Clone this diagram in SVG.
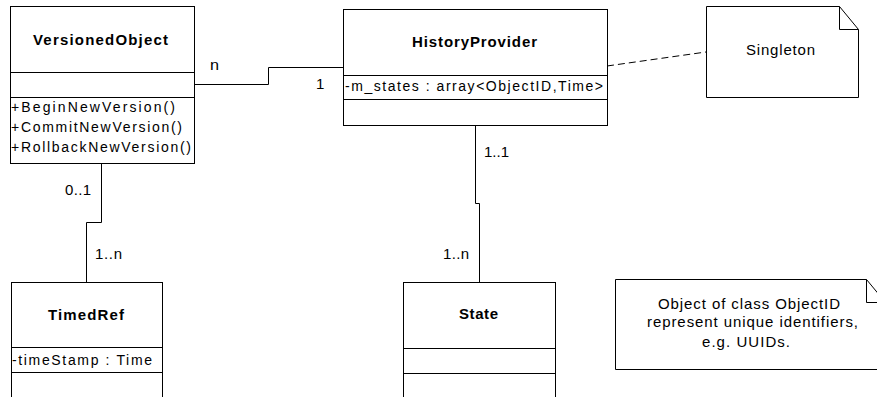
<svg xmlns="http://www.w3.org/2000/svg" width="877" height="397" viewBox="0 0 877 397">
<style>
.box{fill:#fff;stroke:#000;stroke-width:1}
.ln{fill:none;stroke:#000;stroke-width:1}
.dash{fill:none;stroke:#000;stroke-width:1;stroke-dasharray:7 4}
text{font-family:"Liberation Sans",Arial,sans-serif;font-size:14px;fill:#000}
.b{font-weight:bold;font-size:15px}
.l{font-size:15px}
</style>
<rect width="877" height="397" fill="#fff"/>
<g id="connectors">
<polyline class="ln" points="194,84.5 268.5,84.5 268.5,67.5 343,67.5"/>
<polyline class="ln" points="101.5,163 101.5,222.5 86.5,222.5 86.5,282"/>
<polyline class="ln" points="475.5,125 475.5,203.5 479.5,203.5 479.5,282"/>
<line class="dash" x1="607" y1="66" x2="706" y2="52"/>
<text class="l" x="210" y="70" textLength="9" lengthAdjust="spacingAndGlyphs">n</text>
<text class="l" x="316" y="89">1</text>
<text class="l" x="65" y="195" textLength="26" lengthAdjust="spacing">0..1</text>
<text class="l" x="95" y="259" textLength="27" lengthAdjust="spacing">1..n</text>
<text class="l" x="484" y="157" textLength="25" lengthAdjust="spacing">1..1</text>
<text class="l" x="443" y="259" textLength="26" lengthAdjust="spacing">1..n</text>
</g>
<g id="VersionedObject">
<rect class="box" x="10.5" y="6.5" width="184" height="157"/>
<line class="ln" x1="10.5" y1="72.5" x2="194.5" y2="72.5"/>
<line class="ln" x1="10.5" y1="97.5" x2="194.5" y2="97.5"/>
<text class="b" x="33" y="45" textLength="135" lengthAdjust="spacing">VersionedObject</text>
<text x="11" y="112" textLength="164" lengthAdjust="spacing">+BeginNewVersion()</text>
<text x="11" y="132" textLength="171" lengthAdjust="spacing">+CommitNewVersion()</text>
<text x="11" y="152" textLength="180" lengthAdjust="spacing">+RollbackNewVersion()</text>
</g>
<g id="HistoryProvider">
<rect class="box" x="343.5" y="9.5" width="264" height="116"/>
<line class="ln" x1="343.5" y1="75.5" x2="607.5" y2="75.5"/>
<line class="ln" x1="343.5" y1="99.5" x2="607.5" y2="99.5"/>
<text class="b" x="412" y="47" textLength="125" lengthAdjust="spacing">HistoryProvider</text>
<text x="345" y="91" textLength="258" lengthAdjust="spacing">-m_states : array&lt;ObjectID,Time&gt;</text>
</g>
<g id="Singleton">
<path class="box" d="M706.5,6.5 H839.5 L858.5,29.5 V97.5 H706.5 Z"/>
<polyline class="ln" points="839.5,6.5 839.5,29.5 858.5,29.5"/>
<text class="l" x="746" y="55" textLength="69" lengthAdjust="spacing">Singleton</text>
</g>
<g id="TimedRef">
<rect class="box" x="11.5" y="282.5" width="151" height="130"/>
<line class="ln" x1="11.5" y1="347.5" x2="162.5" y2="347.5"/>
<line class="ln" x1="11.5" y1="372.5" x2="162.5" y2="372.5"/>
<text class="b" x="48" y="320" textLength="76" lengthAdjust="spacing">TimedRef</text>
<text x="12" y="365" textLength="140" lengthAdjust="spacing">-timeStamp : Time</text>
</g>
<g id="State">
<rect class="box" x="403.5" y="282.5" width="152" height="130"/>
<line class="ln" x1="403.5" y1="348.5" x2="555.5" y2="348.5"/>
<line class="ln" x1="403.5" y1="373.5" x2="555.5" y2="373.5"/>
<text class="b" x="459" y="319" textLength="39" lengthAdjust="spacing">State</text>
</g>
<g id="ObjectIDNote">
<path class="box" d="M615.5,279.5 H866.5 L885.5,302.5 V369.5 H615.5 Z"/>
<polyline class="ln" points="866.5,279.5 866.5,302.5 885.5,302.5"/>
<text class="l" x="658" y="309" textLength="182" lengthAdjust="spacing">Object of class ObjectID</text>
<text class="l" x="647" y="327" textLength="211" lengthAdjust="spacing">represent unique identifiers,</text>
<text class="l" x="702" y="347" textLength="88" lengthAdjust="spacing">e.g. UUIDs.</text>
</g>
</svg>
